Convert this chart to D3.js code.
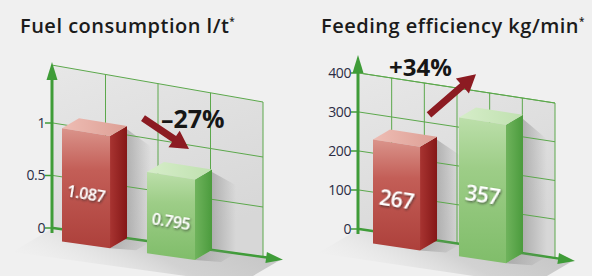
<!DOCTYPE html>
<html>
<head>
<meta charset="utf-8">
<script src="https://cdn.jsdelivr.net/npm/d3@7"></script>
<style>
body{margin:0;background:#f0f0f0;}
svg{display:block;font-family:"Open Sans",sans-serif;}
</style>
</head>
<body>
<script>
// values
var fuelTitle = "Fuel consumption l/t";
var fuelCategories = ["before","after"];
var fuelValues = [1.087, 0.795];
var fuelLabels = ["1.087","0.795"];
var fuelTicks = [0, 0.5, 1];
var fuelTickLabels = ["0","0.5","1"];
var fuelChange = "\u201327%";

var feedTitle = "Feeding efficiency kg/min";
var feedCategories = ["before","after"];
var feedValues = [267, 357];
var feedLabels = ["267","357"];
var feedTicks = [0, 100, 200, 300, 400];
var feedTickLabels = ["0","100","200","300","400"];
var feedChange = "+34%";

var barColors = ["red","green"];

// colours
var palette = {
  red:   {front:["#da948b","#c35e57","#ad403b"], side:["#a83431","#851717"], top:["#eebdb4","#dd9f95"]},
  green: {front:["#bcdfaa","#9dcd87","#80bd6a"], side:["#6fb35c","#4b9b3d"], top:["#d6edc9","#c0e1b0"]}
};
var gridColor = "#5ca84c", axisColor = "#3f9c38", arrowColor = "#8c1b22";

// layout of the two panels (pixels)
var panels = [
  {id:"fuel", title:fuelTitle, cats:fuelCategories, values:fuelValues, labels:fuelLabels,
   ticks:fuelTicks, tickLabels:fuelTickLabels, change:fuelChange,
   unit:1, top:1.55, wallX:[53,263], left:[228,123], right:[257,157],
   barRange:[79,212], pad:0.435, cols:4, titleX:20, axisTop:62, labelSize:16,
   arrow:[[143,1.19],[189,0.96]], changeAt:[161,128], changeSize:25},
  {id:"feed", title:feedTitle, cats:feedCategories, values:feedValues, labels:feedLabels,
   ticks:feedTicks, tickLabels:feedTickLabels, change:feedChange,
   unit:100, top:400, wallX:[359,555], left:[229,190], right:[258,219.25],
   barRange:[390,523], pad:0.453, cols:6, titleX:321, axisTop:55, labelSize:21,
   arrow:[[429,320],[476,443]], changeAt:[389,76], changeSize:24}
];
var depth = [-17, 10];

var svg = d3.select("body").append("svg").attr("width",592).attr("height",276);
var defs = svg.append("defs");

function grad(id, colors, x2, y2){
  var lg = defs.append("linearGradient").attr("id",id)
    .attr("x1",0).attr("y1",0).attr("x2",x2).attr("y2",y2);
  colors.forEach(function(c,i){
    lg.append("stop").attr("offset", colors.length==3 && i==1 ? 0.35 : i/(colors.length-1)).attr("stop-color",c);
  });
}
Object.keys(palette).forEach(function(k){
  grad(k+"Front", palette[k].front, 0, 1);
  grad(k+"Side", palette[k].side, 1, 0);
  grad(k+"Top", palette[k].top, 1, 0);
});
grad("wall", ["#e7e7e7","#d7d7d7"], 0.4, 1);
var fg = defs.append("linearGradient").attr("id","floor").attr("x1",0).attr("y1",0.6).attr("x2",1).attr("y2",0.2);
fg.append("stop").attr("offset",0).attr("stop-color","#f0f0f0").attr("stop-opacity",0);
fg.append("stop").attr("offset",0.5).attr("stop-color","#d2d2d2");
fg.append("stop").attr("offset",1).attr("stop-color","#c2c2c2");
var sg = defs.append("linearGradient").attr("id","shade").attr("x1",0).attr("y1",0).attr("x2",1).attr("y2",0);
sg.append("stop").attr("offset",0).attr("stop-color","#8d8d8d").attr("stop-opacity",0.55);
sg.append("stop").attr("offset",1).attr("stop-color","#8d8d8d").attr("stop-opacity",0);
defs.append("filter").attr("id","txtShadow").attr("x","-20%").attr("y","-30%").attr("width","140%").attr("height","160%")
  .append("feDropShadow").attr("dx",1).attr("dy",1.2).attr("stdDeviation",0.8)
  .attr("flood-color","#222").attr("flood-opacity",0.7);

svg.append("rect").attr("width",592).attr("height",276).attr("fill","#f0f0f0");

var line = d3.line();
function add(a,b){ return [a[0]+b[0], a[1]+b[1]]; }
function scaleVec(a,k){ return [a[0]*k, a[1]*k]; }

function arrowShape(S, E, w, hl, hw){
  var dx=E[0]-S[0], dy=E[1]-S[1], L=Math.sqrt(dx*dx+dy*dy);
  var u=[dx/L, dy/L], n=[-u[1], u[0]];
  var Hd = add(E, scaleVec(u,-hl));
  return [add(S,scaleVec(n,w/2)), add(Hd,scaleVec(n,w/2)), add(Hd,scaleVec(n,hw/2)), E,
          add(Hd,scaleVec(n,-hw/2)), add(Hd,scaleVec(n,-w/2)), add(S,scaleVec(n,-w/2))];
}

panels.forEach(function(p){
  var g = svg.append("g").attr("id",p.id);
  var yL = d3.scaleLinear().domain([0,p.unit]).range(p.left);
  var yR = d3.scaleLinear().domain([0,p.unit]).range(p.right);
  var fx = d3.scaleLinear().domain(p.wallX).range([0,1]);
  function P(x,v){ var t=fx(x); return [x, yL(v)+(yR(v)-yL(v))*t]; }
  var xb = d3.scaleBand().domain(p.cats).range(p.barRange).paddingInner(p.pad).paddingOuter(0);
  var x0 = p.wallX[0], x1 = p.wallX[1];

  // floor
  var fA = P(x0,0), fB = P(x1+18,0);
  g.append("path").attr("d", line([fA, fB, add(fB,scaleVec(depth,2.4)), add(fA,scaleVec(depth,2.4))])+"Z")
    .attr("fill","url(#floor)");

  // back wall
  g.append("path").attr("d", line([P(x0,0),P(x1,0),P(x1,p.top),P(x0,p.top)])+"Z")
    .attr("fill","url(#wall)");

  // wall shadows next to bars
  p.cats.forEach(function(c,i){
    var b1 = xb(c)+xb.bandwidth(), v = p.values[i];
    g.append("path").attr("d", line([P(b1,v*0.97),P(b1,0),P(b1+24,0),P(b1+24,v*0.85)])+"Z")
      .attr("fill","url(#shade)");
  });

  // grid
  var hLines = p.ticks.concat([p.top]);
  g.selectAll("line.h").data(hLines).enter().append("line").attr("class","h")
    .attr("x1",function(v){return P(x0,v)[0];}).attr("y1",function(v){return P(x0,v)[1];})
    .attr("x2",function(v){return P(x1,v)[0];}).attr("y2",function(v){return P(x1,v)[1];})
    .attr("stroke",gridColor).attr("stroke-width",1);
  var cols = d3.range(1, p.cols+1).map(function(i){ return x0 + i*(x1-x0)/p.cols; });
  g.selectAll("line.v").data(cols).enter().append("line").attr("class","v")
    .attr("x1",function(x){return x;}).attr("y1",function(x){return P(x,0)[1];})
    .attr("x2",function(x){return x;}).attr("y2",function(x){return P(x,p.top)[1];})
    .attr("stroke",gridColor).attr("stroke-width",1);

  // x axis with arrow
  var xa0 = P(x0,0), xaEnd = P(x1+6,0), xTip = P(x1+20,0);
  g.append("line").attr("x1",xa0[0]).attr("y1",xa0[1]).attr("x2",xaEnd[0]).attr("y2",xaEnd[1])
    .attr("stroke",axisColor).attr("stroke-width",2.5);
  g.append("path").attr("d", line(arrowShape(P(x1+2,0), xTip, 0, 17, 11))+"Z").attr("fill",axisColor);

  // y axis with arrow
  var ax = x0-1;
  g.append("line").attr("x1",ax).attr("y1",yL(0)+5).attr("x2",ax).attr("y2",p.axisTop+12)
    .attr("stroke",axisColor).attr("stroke-width",3);
  g.append("path").attr("d", line(arrowShape([ax,p.axisTop+18],[ax,p.axisTop],0,18,11))+"Z").attr("fill",axisColor);

  // ticks
  var tk = g.selectAll("g.tick").data(p.ticks).enter().append("g").attr("class","tick")
    .attr("transform",function(v){return "translate(0,"+yL(v)+")";});
  tk.append("line").attr("x1",x0-8).attr("x2",x0-1).attr("stroke",axisColor).attr("stroke-width",1.5);
  tk.append("text").attr("x",x0-8).attr("dy","0.35em").attr("text-anchor","end")
    .attr("font-size",14).attr("fill","#2b2d45").attr("letter-spacing",-0.4)
    .text(function(v,i){return p.tickLabels[i];});

  // floor shadows then bars
  p.cats.forEach(function(c,i){
    var b1 = xb(c)+xb.bandwidth();
    var BR = P(b1,0), fBR = add(BR,depth);
    g.append("path").attr("d", line([BR, fBR, add(fBR,[26,2]), add(BR,[26,2])])+"Z")
      .attr("fill","url(#shade)");
  });
  p.cats.forEach(function(c,i){
    var b0 = xb(c), b1 = b0+xb.bandwidth(), v = p.values[i], col = barColors[i];
    var BL=P(b0,0), BR=P(b1,0), TL=P(b0,v), TR=P(b1,v);
    var fBL=add(BL,depth), fBR=add(BR,depth), fTL=add(TL,depth), fTR=add(TR,depth);
    g.append("path").attr("d", line([fTR,TR,BR,fBR])+"Z").attr("fill","url(#"+col+"Side)");
    g.append("path").attr("d", line([fTL,TL,TR,fTR])+"Z").attr("fill","url(#"+col+"Top)");
    g.append("path").attr("d", line([fTL,fTR,fBR,fBL])+"Z").attr("fill","url(#"+col+"Front)");
    var cx = (fTL[0]+fTR[0])/2, cy = (fTL[1]+fTR[1]+fBL[1]+fBR[1])/4 + 5;
    var ang = Math.atan2(fTR[1]-fTL[1], fTR[0]-fTL[0])*180/Math.PI;
    g.append("text").attr("transform","translate("+cx+","+cy+") rotate("+ang+")")
      .attr("text-anchor","middle").attr("dy","0.35em")
      .attr("font-size",p.labelSize).attr("font-weight",600).attr("fill","#fff")
      .attr("letter-spacing",-0.5).attr("filter","url(#txtShadow)")
      .text(p.labels[i]);
  });

  // change arrow and percentage
  var S = P(p.arrow[0][0], p.arrow[0][1]), E = P(p.arrow[1][0], p.arrow[1][1]);
  g.append("path").attr("d", line(arrowShape(S,E,7,18,20))+"Z").attr("fill",arrowColor);
  g.append("text").attr("x",p.changeAt[0]).attr("y",p.changeAt[1])
    .attr("font-size",p.changeSize).attr("font-weight",700).attr("fill","#161616")
    .text(p.change);

  // title
  var t = g.append("text").attr("x",p.titleX).attr("y",33)
    .attr("font-size",20).attr("font-weight",600).attr("fill","#1b1b1b").attr("letter-spacing",0.5);
  t.append("tspan").text(p.title);
  t.append("tspan").attr("dy",-8).attr("font-size",10).text("*");
});
</script>
</body>
</html>
